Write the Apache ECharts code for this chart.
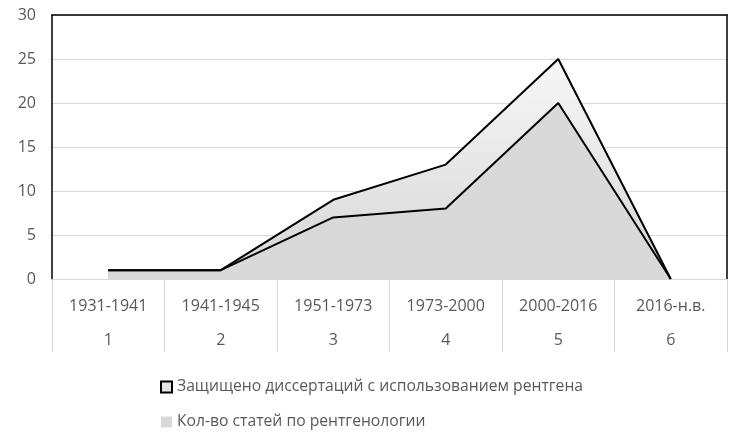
<!DOCTYPE html>
<html><head><meta charset="utf-8">
<script src="https://cdn.jsdelivr.net/npm/echarts@6/dist/echarts.min.js"></script>
<style>html,body{margin:0;padding:0;background:#fff}#c{width:747px;height:447px}</style>
</head><body><div id="c"></div>
<script>
const periods = ['1931-1941','1941-1945','1951-1973','1973-2000','2000-2016','2016-н.в.'];
const nums = ['1','2','3','4','5','6'];
const dissertations = [1,1,9,13,25,0];
const articles = [1,1,7,8,20,0];
const name1 = 'Защищено диссертаций с использованием рентгена';
const name2 = 'Кол-во статей по рентгенологии';

const chart = echarts.init(document.getElementById('c'));
const font = '"Open Sans", sans-serif';
chart.setOption({
  animation: false,
  backgroundColor: '#fff',
  grid: {left: 52, right: 20, top: 15, bottom: 168},
  legend: {
    orient: 'vertical', left: 155, top: 374, itemGap: 19, itemWidth: 11, itemHeight: 11,
    textStyle: {fontFamily: font, fontSize: 15.7, color: '#595959'},
    data: [
      {name: name1, icon: 'rect', itemStyle: {color: '#e6e6e6', borderColor: '#000', borderWidth: 2}},
      {name: name2, icon: 'rect', itemStyle: {color: '#d9d9d9', borderWidth: 0}}
    ]
  },
  xAxis: [{
    type: 'category', data: periods, boundaryGap: true,
    axisLine: {onZero: false, lineStyle: {color: '#d9d9d9', width: 1}},
    axisTick: {show: true, length: 73, lineStyle: {color: '#d9d9d9'}},
    axisLabel: {
      fontFamily: font, fontSize: 16, color: '#595959', lineHeight: 34, margin: 10, interval: 0,
      formatter: (v, i) => v + '\n' + nums[i]
    }
  }, {
    type: 'category', data: periods, position: 'top',
    axisLine: {show: true, onZero: false, lineStyle: {color: '#000', width: 1.5}},
    axisTick: {show: false}, axisLabel: {show: false}
  }],
  yAxis: [{
    type: 'value', min: 0, max: 30, interval: 5,
    axisLine: {show: true, onZero: false, lineStyle: {color: '#000', width: 1.5}}, axisTick: {show: false},
    axisLabel: {fontFamily: font, fontSize: 16, color: '#595959', margin: 16},
    splitLine: {lineStyle: {color: '#d9d9d9'}}
  }, {
    type: 'value', min: 0, max: 30, interval: 5, position: 'right',
    axisLine: {show: true, onZero: false, lineStyle: {color: '#000', width: 1.5}}, axisTick: {show: false},
    axisLabel: {show: false}, splitLine: {show: false}
  }],
  series: [
    {
      name: name1, type: 'line', data: dissertations, symbol: 'none',
      lineStyle: {color: '#000', width: 2},
      itemStyle: {color: '#e6e6e6', borderColor: '#000'},
      areaStyle: {opacity: 1, color: new echarts.graphic.LinearGradient(0, 0, 0, 1, [
        {offset: 0, color: '#f7f7f7'}, {offset: 1, color: '#d6d6d6'}
      ])}
    },
    {
      name: name2, type: 'line', data: articles, symbol: 'none',
      lineStyle: {color: '#000', width: 2},
      itemStyle: {color: '#d9d9d9'},
      areaStyle: {opacity: 1, color: '#d9d9d9'}
    }
  ]
});
</script></body></html>
